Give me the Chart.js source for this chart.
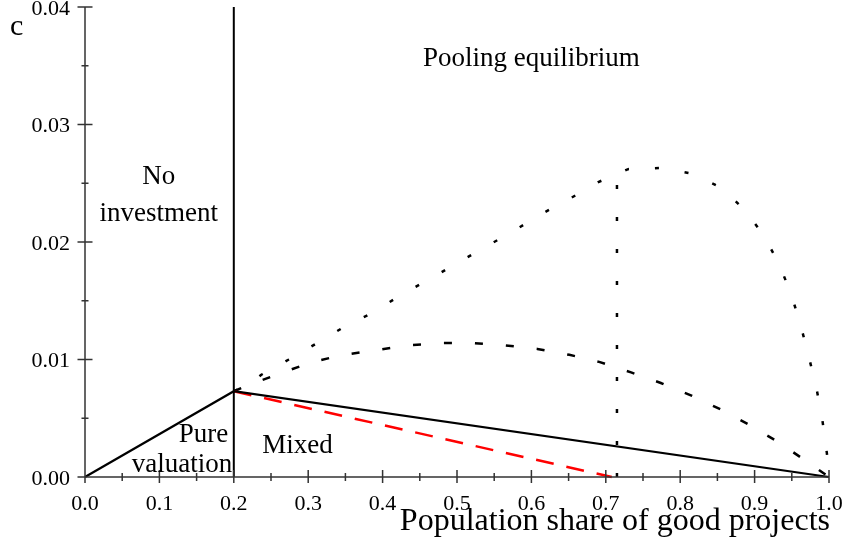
<!DOCTYPE html>
<html lang="en">
<head>
  <meta charset="UTF-8" />
  <title>Equilibrium regions</title>
  <script src="https://cdn.jsdelivr.net/npm/chart.js"></script>
  <style>
    html, body { margin: 0; padding: 0; background: #fff; }
    #wrap { width: 847px; height: 543px; }
  </style>
</head>
<body>
  <div id="wrap"><canvas id="eqChart"></canvas></div>

  <script>
    // tick labels
    const xTicks = [0.0, 0.1, 0.2, 0.3, 0.4, 0.5, 0.6, 0.7, 0.8, 0.9, 1.0];
    const xTickLabels = ['0.0', '0.1', '0.2', '0.3', '0.4', '0.5', '0.6', '0.7', '0.8', '0.9', '1.0'];
    const yTicks = [0.00, 0.01, 0.02, 0.03, 0.04];
    const yTickLabels = ['0.00', '0.01', '0.02', '0.03', '0.04'];

    // solid boundary: origin -> kink -> (1,0)
    const boundX = [0.0, 0.2, 1.0];
    const boundY = [0.0, 0.0073, 0.0];

    // vertical line at 0.2
    const wallX = [0.2, 0.2];
    const wallY = [0.0, 0.04];

    // red dashed line
    const redX = [0.2, 0.708];
    const redY = [0.0073, 0.0];

    // upper dotted curve
    const upperX = [0.2, 0.219, 0.237, 0.274, 0.312, 0.349, 0.387, 0.425, 0.462, 0.5, 0.536, 0.575, 0.614, 0.652, 0.69, 0.73, 0.774, 0.817, 0.856, 0.887, 0.913, 0.933, 0.949, 0.962, 0.973, 0.983, 0.991, 0.997, 1.0];
    const upperY = [0.0073, 0.0078, 0.0087, 0.0100, 0.0114, 0.0128, 0.0140, 0.0155, 0.0168, 0.0182, 0.0195, 0.0209, 0.0224, 0.0237, 0.0251, 0.0262, 0.0263, 0.0258, 0.0246, 0.0227, 0.0205, 0.0181, 0.0156, 0.0129, 0.0102, 0.0076, 0.0049, 0.0021, 0.0005];

    // lower dashed curve
    const lowerX = [0.2, 0.219, 0.266, 0.306, 0.348, 0.391, 0.434, 0.478, 0.522, 0.565, 0.608, 0.651, 0.691, 0.734, 0.774, 0.816, 0.856, 0.894, 0.931, 0.966, 1.0];
    const lowerY = [0.0073, 0.0078, 0.0089, 0.0098, 0.0104, 0.0108, 0.0112, 0.0114, 0.0114, 0.0112, 0.0109, 0.0104, 0.0098, 0.0089, 0.0080, 0.0069, 0.0057, 0.0044, 0.0030, 0.0015, 0.0];

    // vertical dotted line
    const cutX = [0.715, 0.715];
    const cutY = [0.0, 0.0261];

    const zip = (xs, ys) => xs.map((x, i) => ({ x: x, y: ys[i] }));
    const serif = '"Liberation Serif", "DejaVu Serif", serif';

    // region names: centre x in data units, baseline in pixels
    const regionText = ['Pooling equilibrium', 'No', 'investment', 'Pure', 'valuation', 'Mixed'];
    const regionX = [0.6, 0.099, 0.099, 0.1593, 0.1304, 0.2856];
    const regionBase = [66, 184, 221, 442, 472, 453];

    const axesPlugin = {
      id: 'axesPlugin',
      afterDatasetsDraw(chart) {
        const ctx = chart.ctx;
        const xs = chart.scales.x;
        const ys = chart.scales.y;
        const x0 = xs.getPixelForValue(0), x1 = xs.getPixelForValue(1);
        const y0 = ys.getPixelForValue(0), y1 = ys.getPixelForValue(0.04);
        ctx.save();
        ctx.strokeStyle = '#333';
        ctx.lineWidth = 1.5;
        ctx.beginPath();
        ctx.moveTo(x0, y0); ctx.lineTo(x0, y1);
        ctx.moveTo(x0, y0); ctx.lineTo(x1, y0);
        // y ticks (major + minor)
        for (let v = 0; v <= 0.04001; v += 0.005) {
          const p = ys.getPixelForValue(v);
          const major = Math.round(v * 1000) % 10 === 0;
          const h = major ? 7.5 : 3.5;
          ctx.moveTo(x0 - h, p); ctx.lineTo(x0 + h, p);
        }
        for (let v = 0; v <= 1.0001; v += 0.05) {
          const p = xs.getPixelForValue(v);
          const major = Math.round(v * 100) % 10 === 0;
          ctx.moveTo(p, y0 - (major ? 7 : 4)); ctx.lineTo(p, y0 + (major ? 6 : 4));
        }
        ctx.stroke();

        ctx.fillStyle = '#000';
        ctx.font = '22px ' + serif;
        ctx.textAlign = 'right';
        ctx.textBaseline = 'alphabetic';
        yTicks.forEach((v, i) => ctx.fillText(yTickLabels[i], x0 - 15, ys.getPixelForValue(v) + 7.5));
        ctx.textAlign = 'center';
        xTicks.forEach((v, i) => ctx.fillText(xTickLabels[i], xs.getPixelForValue(v), 510));

        ctx.font = '30px ' + serif;
        ctx.textAlign = 'left';
        ctx.fillText('c', 10, 35);

        ctx.font = '32px ' + serif;
        ctx.textAlign = 'right';
        ctx.fillText('Population share of good projects', x1 + 1, 530);

        ctx.textAlign = 'center';
        ctx.font = '27px ' + serif;
        regionText.forEach((t, i) => ctx.fillText(t, xs.getPixelForValue(regionX[i]), regionBase[i]));
        ctx.restore();
      }
    };

    const line = (data, color, width, dash) => ({
      data: data,
      showLine: true,
      borderColor: color,
      borderWidth: width,
      borderDash: dash,
      pointRadius: 0,
      fill: false,
      tension: 0,
      clip: false
    });

    new Chart(document.getElementById('eqChart'), {
      type: 'scatter',
      data: {
        datasets: [
          line(zip(wallX, wallY), '#000', 2, []),
          line(zip(boundX, boundY), '#000', 2.2, []),
          line(zip(redX, redY), '#f00', 2.5, [18, 13]),
          line(zip(upperX, upperY), '#000', 2.5, [4, 26]),
          line(zip(lowerX, lowerY), '#000', 2.5, [8, 23]),
          line(zip(cutX, cutY), '#000', 2.5, [4, 28])
        ]
      },
      options: {
        responsive: true,
        maintainAspectRatio: false,
        animation: false,
        layout: { padding: { left: 85, right: 18, top: 7, bottom: 66 } },
        plugins: { legend: { display: false }, tooltip: { enabled: false } },
        scales: {
          x: { type: 'linear', min: 0, max: 1, display: false },
          y: { type: 'linear', min: 0, max: 0.04, display: false }
        }
      },
      plugins: [axesPlugin]
    });
  </script>
</body>
</html>
